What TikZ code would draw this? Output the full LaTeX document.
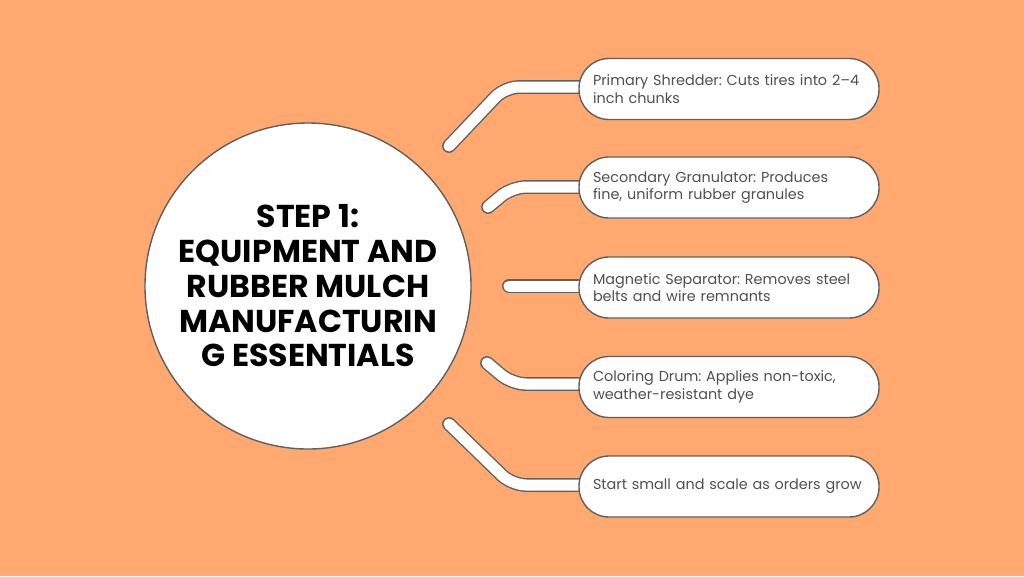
\documentclass[tikz,border=0pt]{standalone}
\usepackage{fontspec}
\setmainfont{Poppins}
\usetikzlibrary{positioning}
\pgfdeclarelayer{bg}
\pgfdeclarelayer{links}
\pgfsetlayers{bg,links,main}
\definecolor{peach}{HTML}{FFA870}
\definecolor{edge}{HTML}{606060}
\definecolor{ink}{HTML}{505050}
\tikzset{
    item/.style={draw=edge, line width=1.4pt, fill=white, rounded corners=30pt,
        minimum width=300pt, minimum height=61pt, text width=272pt,
        inner xsep=14pt, align=left, text=ink,
        font=\fontsize{14.4pt}{17.5pt}\selectfont},
    link/.style={draw=edge, line width=1.4pt, double=white, double distance=11pt,
        line cap=round, rounded corners=14pt}
}
\begin{document}
\frenchspacing
\begin{tikzpicture}[x=1pt, y=-1pt]
    % background
    \begin{pgfonlayer}{bg}
        \fill[peach] (0, 0) rectangle (1024, 576);
    \end{pgfonlayer}
    \useasboundingbox (0, 0) rectangle (1024, 576);

    % Title circle
    \node[circle, draw=edge, line width=1.4pt, fill=white, minimum size=326pt,
        align=center, font=\bfseries\fontsize{31.6pt}{34.75pt}\selectfont] (title)
        at (308, 286) {STEP 1:\\EQUIPMENT AND\\RUBBER MULCH\\MANUFACTURIN\\G ESSENTIALS};

    % Items
    \node[item] (shredder) at (729, 89) {Primary Shredder: Cuts tires into 2--4\\inch chunks};
    \node[item] (granulator) at (729, 187.5) {Secondary Granulator: Produces\\fine, uniform rubber granules};
    \node[item] (separator) at (729, 287.5) {Magnetic Separator: Removes steel\\belts and wire remnants};
    \node[item] (drum) at (729, 387) {Coloring Drum: Applies non-toxic,\\weather-resistant dye};
    \node[item] (scale) at (729, 486.5) {Start small and scale as orders grow};

    % Connector ends
    \coordinate (s1) at (449, 146);
    \coordinate (b1) at (505, 87);
    \coordinate (s2) at (488, 207);
    \coordinate (b2) at (512, 187);
    \coordinate (s3) at (509, 286);
    \coordinate (s4) at (487, 363);
    \coordinate (b4) at (512, 384);
    \coordinate (s5) at (449, 424);
    \coordinate (b5) at (512, 485);

    % Connectors
    \begin{pgfonlayer}{links}
        \draw[link] (s1) -- (b1) -- (b1 -| shredder.west);
        \draw[link] (s2) -- (b2) -- (b2 -| granulator.west);
        \draw[link] (s3) -- (s3 -| separator.west);
        \draw[link] (s4) -- (b4) -- (b4 -| drum.west);
        \draw[link] (s5) -- (b5) -- (b5 -| scale.west);
    \end{pgfonlayer}
\end{tikzpicture}
\end{document}
